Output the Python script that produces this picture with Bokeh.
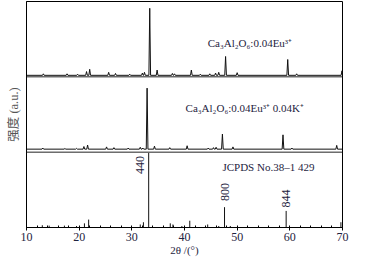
from bokeh.plotting import figure
from bokeh.models import Span, FixedTicker
from bokeh.core.properties import value
from bokeh.embed import file_html
from bokeh.resources import INLINE
import math

# ---- data ----
# Ca3Al2O6:0.04Eu3+ (top panel): peak positions (2theta) and heights (panel fraction)
eu_pos = [13.2, 17.7, 19.7, 21.4, 22.0, 25.6, 26.9, 29.6, 32.0, 32.4, 33.4, 34.8,
          37.7, 38.1, 41.3, 43.0, 44.8, 45.9, 46.5, 47.8, 50.0, 59.6, 61.3, 69.9]
eu_h = [0.02, 0.02, 0.015, 0.05, 0.08, 0.04, 0.025, 0.015, 0.03, 0.04, 0.89, 0.07,
        0.025, 0.02, 0.07, 0.015, 0.02, 0.03, 0.04, 0.25, 0.035, 0.21, 0.02, 0.06]

# Ca3Al2O6:0.04Eu3+,0.04K+ (middle panel)
euk_pos = [13.1, 17.3, 19.5, 20.9, 21.6, 25.2, 26.6, 29.3, 31.6, 32.1, 32.9, 34.3,
           37.2, 40.5, 44.5, 45.5, 46.0, 47.2, 49.2, 58.7, 60.4, 68.9]
euk_h = [0.015, 0.01, 0.01, 0.035, 0.055, 0.03, 0.02, 0.015, 0.025, 0.015, 0.81, 0.04,
         0.02, 0.045, 0.015, 0.02, 0.025, 0.2, 0.03, 0.19, 0.015, 0.05]

# JCPDS No.38-1429 stick pattern (bottom panel)
ref_pos = [13.0, 14.3, 17.2, 19.5, 21.0, 21.8, 31.6, 32.2, 33.2, 37.3, 37.8, 39.5,
           41.0, 44.4, 46.5, 47.6, 48.7, 59.3, 69.7]
ref_h = [0.03, 0.025, 0.025, 0.02, 0.055, 0.105, 0.04, 0.07, 0.99, 0.055, 0.04, 0.02,
         0.09, 0.04, 0.02, 0.27, 0.02, 0.22, 0.07]

hkl_labels = ["440", "800", "844"]
hkl_pos = [33.2, 47.6, 59.3]

sample_labels = ["Ca\u2083Al\u2082O\u2086:0.04Eu\u00b3\u207a",
                 "Ca\u2083Al\u2082O\u2086:0.04Eu\u00b3\u207a 0.04K\u207a",
                 "JCPDS No.38\u20131 429"]

x_ticks = [10, 20, 30, 40, 50, 60, 70]

# ---- layout / style ----
TXT = "#1e2340"
SERIF = "Liberation Serif"
panel_base = [2.02, 1.04]   # baselines of the two measured patterns
W = 0.16                    # half-width of drawn peaks


def profile(pos, h, base):
    xs, ys = [10.0], [base]
    for p_, h_ in sorted(zip(pos, h)):
        xs += [p_ - W, p_, p_ + W]
        ys += [base, base + h_, base]
    xs.append(70.0)
    ys.append(base)
    return xs, ys


p = figure(width=357, height=259, x_range=(10, 70), y_range=(0, 3),
           output_backend="svg", toolbar_location=None,
           min_border_left=26, min_border_right=15, min_border_top=1,
           min_border_bottom=32)
p.grid.visible = False
p.outline_line_color = "black"
p.outline_line_width = 1
p.background_fill_color = "white"
p.border_fill_color = "white"

for sp_loc in [1, 2]:
    p.add_layout(Span(location=sp_loc, dimension="width", line_color="#222",
                      line_width=1))

for (pos, h), base in zip([(eu_pos, eu_h), (euk_pos, euk_h)], panel_base):
    xs, ys = profile(pos, h, base)
    p.line(xs, ys, line_color="#111", line_width=1)

p.segment(x0=ref_pos, y0=[0] * len(ref_pos), x1=ref_pos, y1=ref_h,
          line_color="#111", line_width=1)

# hkl labels (rotated)
hkl_x = [hkl_pos[0] - 1.7, hkl_pos[1], hkl_pos[2]]
hkl_y = [0.83, ref_h[ref_pos.index(47.6)] + 0.2, ref_h[ref_pos.index(59.3)] + 0.165]
p.text(x=hkl_x, y=hkl_y, text=hkl_labels, angle=math.pi / 2,
       text_align="center", text_baseline="middle", text_font=value(SERIF),
       text_font_size="12px", text_color=TXT)

# sample labels
p.text(x=[44.4, 40.2, 47.2], y=[2.45, 1.58, 0.80], text=sample_labels,
       text_align="left", text_baseline="middle", text_font=value(SERIF),
       text_font_size="11px", text_color=TXT)

# axes
xa = p.xaxis[0]
xa.ticker = FixedTicker(ticks=x_ticks, minor_ticks=list(range(10, 71, 2)))
xa.major_tick_out = 3
xa.major_tick_in = 0
xa.minor_tick_in = 2
xa.minor_tick_out = 0
xa.major_label_standoff = 2
xa.major_label_text_font = SERIF
xa.major_label_text_font_size = "12px"
xa.major_label_text_color = TXT
xa.axis_label = "2\u03b8 /(\u00b0)"
xa.axis_label_text_font = SERIF
xa.axis_label_text_font_size = "11px"
xa.axis_label_text_font_style = "normal"
xa.axis_label_text_color = TXT
xa.axis_label_standoff = 0
xa.axis_line_color = "black"

ya = p.yaxis[0]
ya.ticker = FixedTicker(ticks=[])
ya.major_tick_out = 0
ya.major_tick_in = 0
ya.minor_tick_out = 0
ya.minor_tick_in = 0
ya.axis_label = "强度 (a.u.)"
ya.axis_label_text_font = "Liberation Serif, Noto Sans CJK SC"
ya.axis_label_text_font_size = "12.5px"
ya.axis_label_text_font_style = "normal"
ya.axis_label_text_color = "#555"
ya.axis_label_standoff = 6
ya.axis_line_color = "black"

open("out.html", "w").write(file_html(p, INLINE))
